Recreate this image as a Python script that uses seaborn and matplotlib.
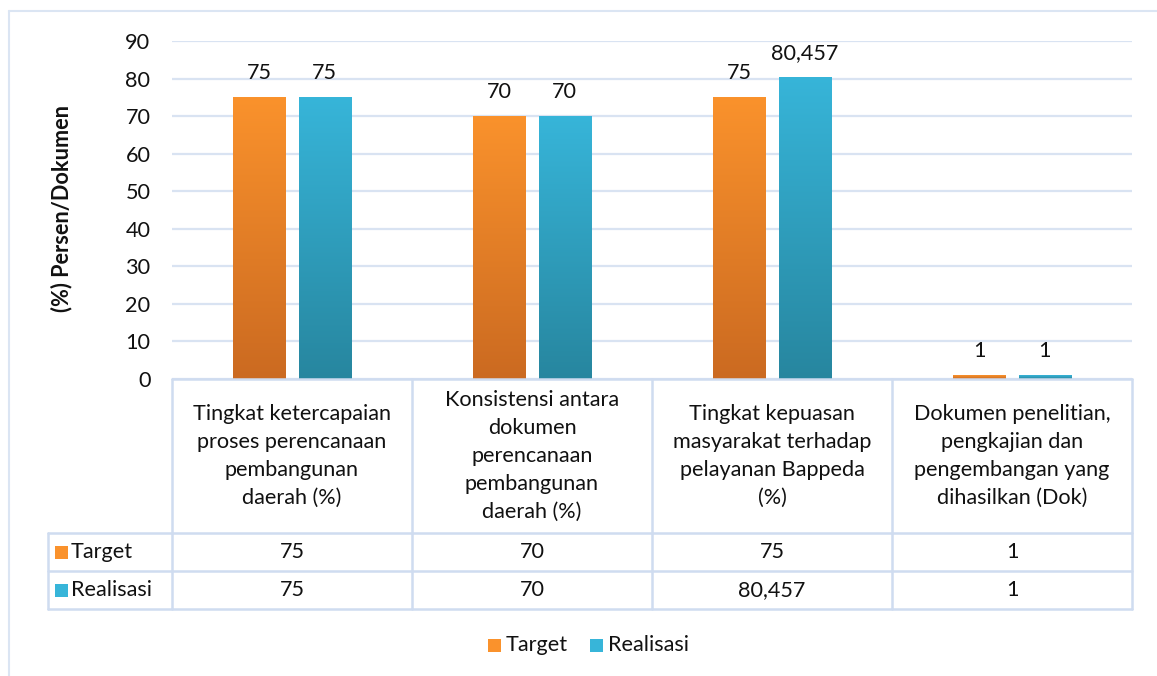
import numpy as np
import pandas as pd
import matplotlib
matplotlib.use("Agg")
import matplotlib.pyplot as plt
import seaborn as sns
from matplotlib.colors import LinearSegmentedColormap
from matplotlib.lines import Line2D
from matplotlib.patches import Rectangle

# =========================
# DATA
# =========================

categories = [
    "Tingkat ketercapaian\nproses perencanaan\npembangunan\ndaerah (%)",
    "Konsistensi antara\ndokumen\nperencanaan\npembangunan\ndaerah (%)",
    "Tingkat kepuasan\nmasyarakat terhadap\npelayanan Bappeda\n(%)",
    "Dokumen penelitian,\npengkajian dan\npengembangan yang\ndihasilkan (Dok)",
]
series = ["Target", "Realisasi"]
target = [75, 70, 75, 1]
realisasi = [75, 70, 80.457, 1]
y_ticks = [0, 10, 20, 30, 40, 50, 60, 70, 80, 90]
y_label = "(%) Persen/Dokumen"

# =========================
# STYLE
# =========================

W, H = 1157, 676
FS = 15.6
GRID = "#d9e3f2"
TABLE_LINE = "#cfdcf0"
TXT = "#111111"
col_top = {"Target": "#fa922c", "Realisasi": "#37b5d9"}
col_bot = {"Target": "#cb6a21", "Realisasi": "#27869f"}

sns.set_theme(style="white")
plt.rcParams["font.family"] = ["Lato", "DejaVu Sans"]

df = pd.DataFrame({
    "kategori": list(range(len(categories))) * 2,
    "seri": [series[0]] * len(target) + [series[1]] * len(realisasi),
    "nilai": target + realisasi,
})

fig = plt.figure(figsize=(W / 100, H / 100), dpi=100)

def fx(px):
    return px / W

def fy(py):
    return 1 - py / H

# plot area: x 172..1132, y 41 (90) .. 379 (0)
ax = fig.add_axes([fx(172), fy(379), fx(1132) - fx(172), fy(41) - fy(379)])

sns.barplot(data=df, x="kategori", y="nilai", hue="seri", order=list(range(len(categories))),
            hue_order=series, palette=col_top, width=0.542, gap=0.2,
            legend=False, ax=ax, zorder=3)

ax.set_xlim(-0.5, len(categories) - 0.5)
ax.set_ylim(0, 90)
ax.set_yticks(y_ticks)
ax.set_yticklabels([str(t) for t in y_ticks], fontsize=FS, color=TXT)
ax.set_xticks([])
ax.set_xlabel("")
ax.set_ylabel("")
ax.tick_params(axis="y", length=0, pad=15.5)
for s in ax.spines.values():
    s.set_visible(False)
ax.grid(axis="y", color=GRID, linewidth=1.6, zorder=0)
ax.set_axisbelow(True)

# gradient fill on each bar
n = len(categories)
for i, patch in enumerate(ax.patches[: 2 * n]):
    name = series[i // n]
    cmap = LinearSegmentedColormap.from_list(name, [col_bot[name], col_top[name]])
    x0, w, h = patch.get_x(), patch.get_width(), patch.get_height()
    grad = np.linspace(0, 1, 256).reshape(-1, 1)
    im = ax.imshow(grad, cmap=cmap, aspect="auto", origin="lower",
                   extent=[x0, x0 + w, 0, h], zorder=4)
    im.set_clip_path(patch)
    patch.set_edgecolor("none")
    # value label
    val = df["nilai"].iloc[i]
    txt = f"{val:g}".replace(".", ",")
    ax.annotate(txt, (x0 + w / 2, h), xytext=(0, 10), textcoords="offset points",
                ha="center", va="bottom", fontsize=FS, color=TXT, zorder=5)

ax.set_xlim(-0.5, len(categories) - 0.5)
ax.set_ylim(0, 90)

fig.text(fx(62), fy(208), y_label, rotation=90, ha="center", va="center",
         fontsize=FS, fontweight="bold", color=TXT)

# =========================
# DATA TABLE
# =========================

col_edges = [172, 412, 652, 892, 1132]
row_edges = [379, 533, 571, 609]

def hline(x0, x1, y):
    fig.add_artist(Line2D([fx(x0), fx(x1)], [fy(y), fy(y)], color=TABLE_LINE, linewidth=1.8))

def vline(x, y0, y1):
    fig.add_artist(Line2D([fx(x), fx(x)], [fy(y0), fy(y1)], color=TABLE_LINE, linewidth=1.8))

hline(172, 1132, 379)
for y in row_edges[1:]:
    hline(48, 1132, y)
for x in col_edges:
    vline(x, 379, 609)
vline(48, 533, 609)

for j, cat in enumerate(categories):
    cx = (col_edges[j] + col_edges[j + 1]) / 2
    fig.text(fx(cx), fy(456), cat, ha="center", va="center", fontsize=FS,
             linespacing=1.5, color=TXT)
    fig.text(fx(cx), fy(552), f"{target[j]:g}".replace(".", ","), ha="center", va="center",
             fontsize=FS, color=TXT)
    fig.text(fx(cx), fy(590), f"{realisasi[j]:g}".replace(".", ","), ha="center", va="center",
             fontsize=FS, color=TXT)

def swatch(px, py, name):
    fig.add_artist(Rectangle((fx(px), fy(py + 6.5)), fx(13), 13 / H,
                             facecolor=col_top[name], edgecolor="none"))

swatch(55, 552, "Target")
fig.text(fx(71), fy(552), "Target", ha="left", va="center", fontsize=FS, color=TXT)
swatch(55, 590, "Realisasi")
fig.text(fx(71), fy(590), "Realisasi", ha="left", va="center", fontsize=FS, color=TXT)

# legend
swatch(488, 645, "Target")
fig.text(fx(506), fy(645), "Target", ha="left", va="center", fontsize=FS, color=TXT)
swatch(590, 645, "Realisasi")
fig.text(fx(608), fy(645), "Realisasi", ha="left", va="center", fontsize=FS, color=TXT)

# outer chart frame
fig.add_artist(Line2D([fx(9), fx(9)], [fy(11), 0], color="#dbe5f3", linewidth=1.5))
fig.add_artist(Line2D([fx(9), 1], [fy(11), fy(11)], color="#dbe5f3", linewidth=1.5))

fig.savefig("out.png", dpi=100, facecolor="white")
